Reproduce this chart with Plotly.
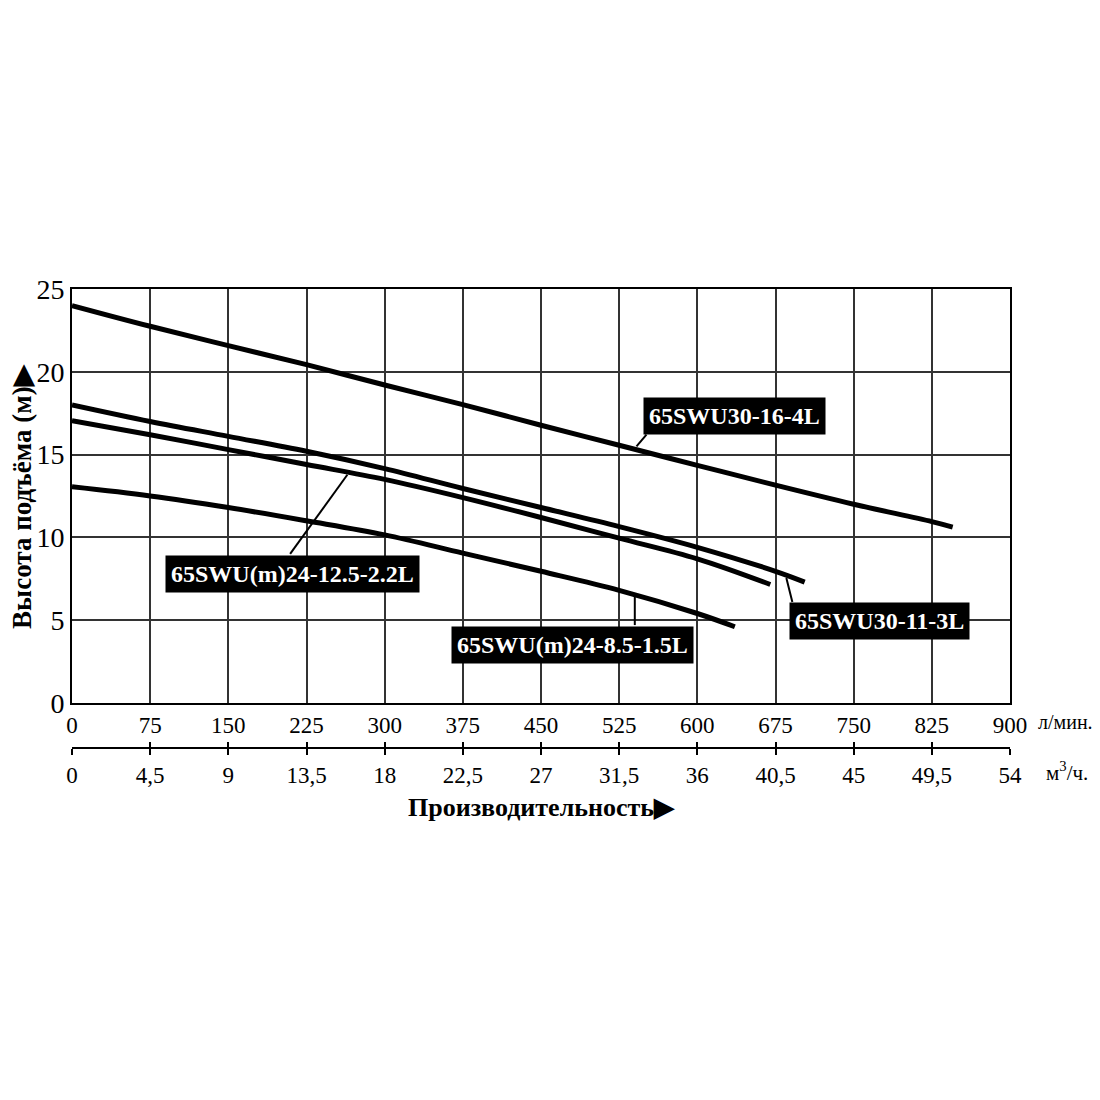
import plotly.graph_objects as go

# ---- data ----
flow_ticks_lpm = [0, 75, 150, 225, 300, 375, 450, 525, 600, 675, 750, 825, 900]
flow_ticks_m3h = [0, 4.5, 9, 13.5, 18, 22.5, 27, 31.5, 36, 40.5, 45, 49.5, 54]
flow_ticktext_m3h = ["0", "4,5", "9", "13,5", "18", "22,5", "27", "31,5", "36", "40,5", "45", "49,5", "54"]
head_ticks = [0, 5, 10, 15, 20, 25]

pump_16_4L_x = [0, 75, 150, 225, 300, 375, 450, 525, 600, 675, 750, 825, 845]
pump_16_4L_y = [24, 22.75, 21.58, 20.43, 19.2, 18.02, 16.77, 15.56, 14.35, 13.15, 12.0, 10.95, 10.62]

pump_11_3L_x = [0, 75, 150, 225, 300, 375, 450, 525, 600, 675, 703]
pump_11_3L_y = [18, 17.0, 16.1, 15.2, 14.15, 12.95, 11.8, 10.65, 9.4, 7.95, 7.3]

pump_12_5_x = [0, 75, 150, 225, 300, 375, 450, 525, 600, 670]
pump_12_5_y = [17.05, 16.2, 15.3, 14.4, 13.5, 12.4, 11.2, 9.95, 8.7, 7.15]

pump_8_5_x = [0, 75, 150, 225, 300, 375, 450, 525, 600, 636]
pump_8_5_y = [13.05, 12.5, 11.8, 11.0, 10.15, 9.05, 7.95, 6.8, 5.4, 4.6]

label_16_4L = "65SWU30-16-4L"
label_11_3L = "65SWU30-11-3L"
label_12_5 = "65SWU(m)24-12.5-2.2L"
label_8_5 = "65SWU(m)24-8.5-1.5L"

y_title = "Высота подъёма (м)▶"
x_title = "Производительность▶"

SERIF = "Liberation Serif, Times New Roman, serif"

fig = go.Figure()
for xs, ys in [(pump_16_4L_x, pump_16_4L_y), (pump_11_3L_x, pump_11_3L_y),
               (pump_12_5_x, pump_12_5_y), (pump_8_5_x, pump_8_5_y)]:
    fig.add_trace(go.Scatter(x=xs, y=ys, mode="lines", line=dict(color="black", width=5, shape="spline"),
                             showlegend=False, hoverinfo="skip"))

# dummy traces so secondary axes are drawn
fig.add_trace(go.Scatter(x=[0, 54], y=[0, 0], xaxis="x2", mode="lines", line=dict(width=0),
                         showlegend=False, hoverinfo="skip"))
fig.add_trace(go.Scatter(x=[0, 54], y=[0, 0], xaxis="x3", mode="lines", line=dict(width=0),
                         showlegend=False, hoverinfo="skip"))

def label(text, cx, cy, hx, hy, tx, ty):
    # leader line from curve point (hx, hy) to box edge (tx, ty)
    fig.add_shape(type="line", xref="x", yref="y", x0=hx, y0=hy, x1=tx, y1=ty,
                  line=dict(color="black", width=2))
    fig.add_annotation(x=cx, y=cy, xref="x", yref="y", text="<b>%s</b>" % text, showarrow=False,
                       bgcolor="black", borderpad=5,
                       font=dict(family=SERIF, size=24, color="white"))

label(label_16_4L, 636, 17.35, 541.6, 15.5, 551.2, 16.2)
label(label_11_3L, 775, 4.96, 685.4, 7.54, 691.2, 6.1)
label(label_12_5, 212, 7.8, 264.2, 13.78, 209.3, 9.0)
label(label_8_5, 480.5, 3.5, 540, 6.43, 540, 4.7)

# unit labels
fig.add_annotation(x=1.0, y=0.2622, xref="paper", yref="paper", xanchor="left", yanchor="top",
                   xshift=26, yshift=-6, text="л/мин.", showarrow=False,
                   font=dict(family=SERIF, size=20, color="black"))
fig.add_annotation(x=1.0, y=0.1819, xref="paper", yref="paper", xanchor="left", yanchor="top",
                   xshift=34, yshift=-8, text="м<sup>3</sup>/ч.", showarrow=False,
                   font=dict(family=SERIF, size=21, color="black"))

# y axis title
fig.add_annotation(x=-0.054, y=0.63, xref="paper", yref="paper", xanchor="center", yanchor="middle",
                   textangle=-90, text="<b>%s</b>" % y_title, showarrow=False,
                   font=dict(family=SERIF, size=27, color="black"))

fig.update_layout(
    width=1100, height=1100,
    margin=dict(l=64, r=97.5, t=281.3, b=258, autoexpand=False),
    paper_bgcolor="white", plot_bgcolor="white",
    font=dict(family=SERIF, color="black"),
    xaxis=dict(range=[0, 900], tickvals=flow_ticks_lpm, showgrid=True, gridcolor="#333333", gridwidth=1.5,
               zeroline=False, showline=True, linecolor="black", linewidth=2, mirror=True,
               ticks="", tickfont=dict(size=23), anchor="y", automargin=False),
    xaxis2=dict(range=[0, 54], tickvals=flow_ticks_m3h, ticktext=flow_ticktext_m3h, overlaying="x",
                anchor="free", position=0.1819, showgrid=False, zeroline=False, showline=True,
                linecolor="black", linewidth=2, ticks="outside", ticklen=6, tickwidth=2, tickcolor="black",
                tickfont=dict(size=23), automargin=False,
                title=dict(text="<b>%s</b>" % x_title, font=dict(size=26), standoff=10)),
    xaxis3=dict(range=[0, 54], tickvals=flow_ticks_m3h, overlaying="x", anchor="free", position=0.1819,
                showgrid=False, zeroline=False, showline=False, ticks="inside", ticklen=6, tickwidth=2,
                tickcolor="black", showticklabels=False, automargin=False),
    yaxis=dict(range=[0, 25], tickvals=head_ticks, domain=[0.2622, 1], showgrid=True, gridcolor="#333333",
               gridwidth=1.5, zeroline=False, showline=True, linecolor="black", linewidth=2, mirror=True,
               ticks="", tickfont=dict(size=28), automargin=False),
)

fig.write_html("out.html")
